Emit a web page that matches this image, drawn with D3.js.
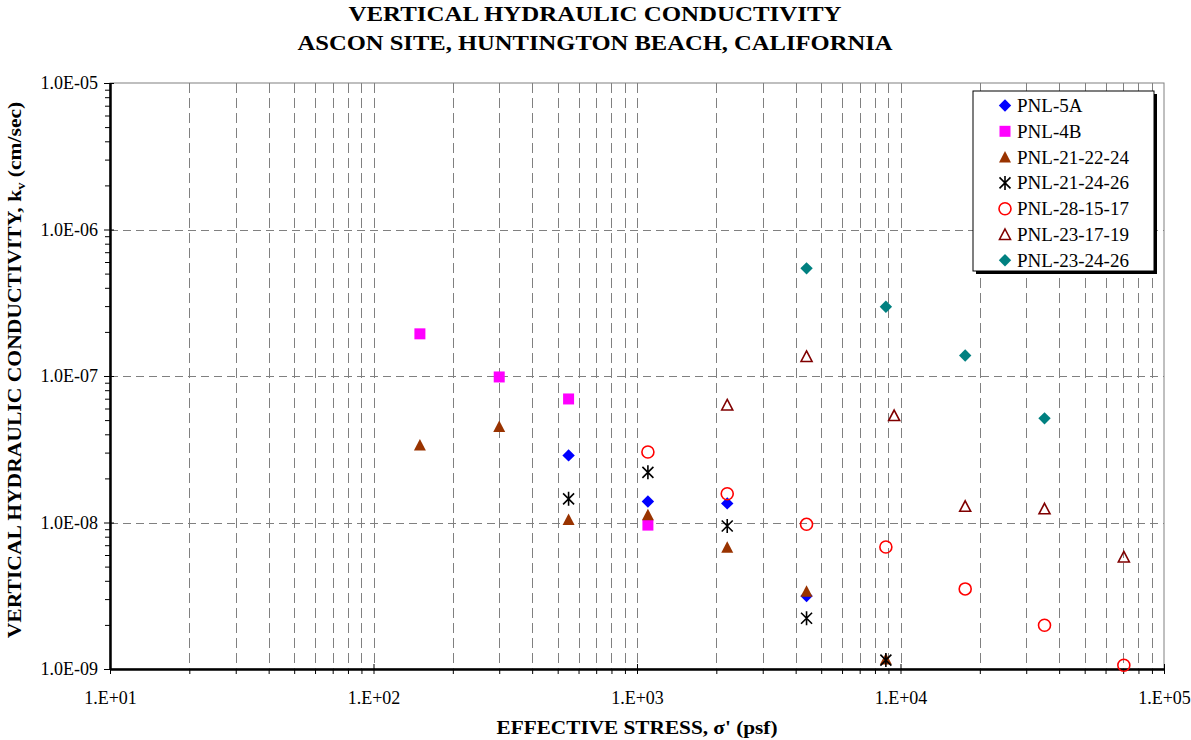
<!DOCTYPE html>
<html><head><meta charset="utf-8">
<script src="https://cdn.jsdelivr.net/npm/d3@7"></script>
<style>
html,body{margin:0;padding:0;background:#fff;}
svg{display:block;font-family:"Liberation Serif","Times New Roman",serif;}
</style></head>
<body>
<svg id="chart" width="1191" height="740"></svg>
<script>
// ---------- DATA ----------
const titleLines = ["VERTICAL HYDRAULIC CONDUCTIVITY", "ASCON SITE, HUNTINGTON BEACH, CALIFORNIA"];
const xTickValues = [1e1, 1e2, 1e3, 1e4, 1e5];
const xTickLabels = ["1.E+01", "1.E+02", "1.E+03", "1.E+04", "1.E+05"];
const yTickValues = [1e-9, 1e-8, 1e-7, 1e-6, 1e-5];
const yTickLabels = ["1.0E-09", "1.0E-08", "1.0E-07", "1.0E-06", "1.0E-05"];

const seriesNames = ["PNL-5A", "PNL-4B", "PNL-21-22-24", "PNL-21-24-26", "PNL-28-15-17", "PNL-23-17-19", "PNL-23-24-26"];

const pnl5A_stress = [550, 1100, 2200, 4400];
const pnl5A_k      = [2.87e-8, 1.39e-8, 1.35e-8, 3.15e-9];

const pnl4B_stress = [150, 300, 550, 1100];
const pnl4B_k      = [1.94e-7, 9.85e-8, 6.97e-8, 9.6e-9];

const pnl212224_stress = [150, 300, 550, 1100, 2200, 4400, 8800];
const pnl212224_k      = [3.38e-8, 4.52e-8, 1.05e-8, 1.13e-8, 6.77e-9, 3.39e-9, 1.17e-9];

const pnl212426_stress = [550, 1100, 2200, 4400, 8800];
const pnl212426_k      = [1.45e-8, 2.2e-8, 9.46e-9, 2.22e-9, 1.15e-9];

const pnl281517_stress = [1100, 2200, 4400, 8800, 17600, 35200, 70400];
const pnl281517_k      = [3.03e-8, 1.57e-8, 9.72e-9, 6.8e-9, 3.52e-9, 1.99e-9, 1.06e-9];

const pnl231719_stress = [2200, 4400, 9460, 17600, 35200, 70400];
const pnl231719_k      = [6.34e-8, 1.36e-7, 5.37e-8, 1.29e-8, 1.24e-8, 5.82e-9];

const pnl232426_stress = [4400, 8800, 17600, 35200];
const pnl232426_k      = [5.43e-7, 2.97e-7, 1.38e-7, 5.14e-8];

// ---------- STYLE ----------
const seriesStyle = [
  {shape: "diamond",  color: "#0000FF"},
  {shape: "square",   color: "#FF00FF"},
  {shape: "triangle", color: "#993300"},
  {shape: "star",     color: "#000000"},
  {shape: "circle",   color: "#FF0000"},
  {shape: "otriangle",color: "#800000"},
  {shape: "diamond",  color: "#008080"}
];
const seriesData = [
  [pnl5A_stress, pnl5A_k], [pnl4B_stress, pnl4B_k], [pnl212224_stress, pnl212224_k],
  [pnl212426_stress, pnl212426_k], [pnl281517_stress, pnl281517_k],
  [pnl231719_stress, pnl231719_k], [pnl232426_stress, pnl232426_k]
];

const svg = d3.select("#chart");
const L = 110, R = 1164, T = 83, B = 669;
const x = d3.scaleLog().domain([1e1, 1e5]).range([L, R]);
const y = d3.scaleLog().domain([1e-9, 1e-5]).range([B, T]);

// minor tick values
const xMinor = [], yMinor = [];
[1e1, 1e2, 1e3, 1e4].forEach(d => { for (let k = 2; k <= 9; k++) xMinor.push(k * d); });
[1e-9, 1e-8, 1e-7, 1e-6].forEach(d => { for (let k = 2; k <= 9; k++) yMinor.push(k * d); });

// plot area border (gray)
svg.append("rect").attr("x", L).attr("y", T).attr("width", R - L).attr("height", B - T)
  .attr("fill", "#fff").attr("stroke", "#808080").attr("stroke-width", 1);

// grid
const grid = svg.append("g").attr("stroke", "#808080").attr("stroke-width", 1).attr("fill", "none");
grid.selectAll("line.vx").data(xMinor.concat([1e2, 1e3, 1e4])).join("line")
  .attr("x1", d => Math.round(x(d)) + 0.5).attr("x2", d => Math.round(x(d)) + 0.5)
  .attr("y1", T).attr("y2", B).attr("stroke-dasharray", "10,5");
grid.selectAll("line.hy").data([1e-8, 1e-7, 1e-6]).join("line")
  .attr("y1", d => Math.round(y(d)) + 0.5).attr("y2", d => Math.round(y(d)) + 0.5)
  .attr("x1", L).attr("x2", R).attr("stroke-dasharray", "8,5");

// axes
const fontTick = 18;
const xAxisMinor = d3.axisBottom(x).tickValues(xMinor).tickFormat("").tickSize(5).tickSizeOuter(0);
const xAxisMajor = d3.axisBottom(x).tickValues(xTickValues)
  .tickFormat((d, i) => xTickLabels[i]).tickSize(5).tickSizeOuter(0).tickPadding(17);
const yAxisMinor = d3.axisLeft(y).tickValues(yMinor).tickFormat("").tickSize(5).tickSizeOuter(0);
const yAxisMajor = d3.axisLeft(y).tickValues(yTickValues)
  .tickFormat((d, i) => yTickLabels[i]).tickSize(6).tickSizeOuter(0).tickPadding(6);

function styleAxis(g) {
  g.select(".domain").attr("stroke", "#000").attr("stroke-width", 2);
  g.selectAll(".tick line").attr("stroke", "#000").attr("stroke-width", 1);
  g.selectAll(".tick text").attr("font-family", "Liberation Serif, Times New Roman, serif")
    .attr("font-size", fontTick).attr("fill", "#000");
}
svg.append("g").attr("transform", `translate(0,${B})`).call(xAxisMinor).call(styleAxis);
svg.append("g").attr("transform", `translate(0,${B})`).call(xAxisMajor).call(styleAxis)
  .selectAll(".tick line").attr("y1", -5);
svg.append("g").attr("transform", `translate(0,${B})`); 
svg.append("g").attr("transform", `translate(${L},0)`).call(yAxisMinor).call(styleAxis);
svg.append("g").attr("transform", `translate(${L},0)`).call(yAxisMajor).call(styleAxis)
  .selectAll(".tick line").attr("x1", 4);

// marker path generators
function markerPath(shape) {
  switch (shape) {
    case "diamond": return "M0,-6.2L6.2,0L0,6.2L-6.2,0Z";
    case "square": return "M-5.5,-5.5H5.5V5.5H-5.5Z";
    case "triangle": return "M0,-6L6,5.5L-6,5.5Z";
    case "otriangle": return "M0,-5.5L5.5,5L-5.5,5Z";
    case "star": return "M0,-7V7M-5.5,-5.5L5.5,5.5M-5.5,5.5L5.5,-5.5";
    case "circle": return d3.symbol(d3.symbolCircle, Math.PI * 36)();
  }
}
function styleMarker(sel, st) {
  if (st.shape === "circle" || st.shape === "otriangle" || st.shape === "star") {
    sel.attr("fill", "none").attr("stroke", st.color).attr("stroke-width", 1.6);
  } else {
    sel.attr("fill", st.color).attr("stroke", "none");
  }
}

// points
seriesData.forEach((sd, si) => {
  const st = seriesStyle[si];
  const pts = sd[0].map((s, i) => ({s: s, k: sd[1][i]}));
  const g = svg.append("g").attr("class", "series");
  g.selectAll("path").data(pts).join("path")
    .attr("d", markerPath(st.shape))
    .attr("transform", d => `translate(${x(d.s)},${y(d.k)})`)
    .call(styleMarker, st);
});

// legend
const lg = svg.append("g");
const lx = 973, ly = 91, lw = 181, lh = 180;
lg.append("rect").attr("x", lx + 3).attr("y", ly + 3).attr("width", lw).attr("height", lh).attr("fill", "#000");
lg.append("rect").attr("x", lx).attr("y", ly).attr("width", lw).attr("height", lh)
  .attr("fill", "#fff").attr("stroke", "#000").attr("stroke-width", 1);
seriesNames.forEach((n, i) => {
  const cy = ly + 14.5 + i * 25.8;
  const st = seriesStyle[i];
  lg.append("path").attr("d", markerPath(st.shape)).attr("transform", `translate(1005,${cy})`).call(styleMarker, st);
  lg.append("text").attr("x", 1017).attr("y", cy + 6.5).attr("font-size", 19).attr("fill", "#000").text(n);
});

// titles
const titleWidths = [493, 595];
svg.append("g").selectAll("text").data(titleLines).join("text")
  .attr("x", 595).attr("y", (d, i) => 21 + i * 29).attr("text-anchor", "middle")
  .attr("font-weight", "bold").attr("font-size", 20)
  .attr("textLength", (d, i) => titleWidths[i]).attr("lengthAdjust", "spacingAndGlyphs")
  .text(d => d);

svg.append("text").attr("x", 637).attr("y", 734).attr("text-anchor", "middle")
  .attr("font-weight", "bold").attr("font-size", 18)
  .attr("textLength", 281).attr("lengthAdjust", "spacingAndGlyphs")
  .text("EFFECTIVE STRESS, σ' (psf)");

const yt = svg.append("text").attr("transform", `translate(21,${(T + B) / 2 - 6}) rotate(-90)`)
  .attr("text-anchor", "middle").attr("font-weight", "bold").attr("font-size", 18);
const yt1 = yt.append("tspan").text("VERTICAL HYDRAULIC CONDUCTIVITY, k");
yt.append("tspan").attr("font-size", 12).attr("dy", 4).text("v");
yt.append("tspan").attr("dy", -4).text(" (cm/sec)");
// stretch the rotated title to the reference length
const ytLen = yt.node().getComputedTextLength();
yt.attr("transform", `translate(21,${(T + B) / 2 - 6}) rotate(-90) scale(${537 / ytLen},1)`);
</script>
</body></html>
